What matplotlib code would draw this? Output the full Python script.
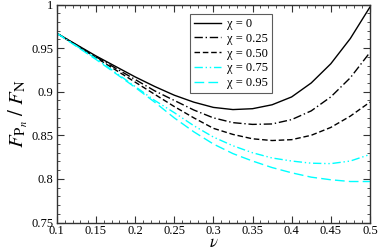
import numpy as np
import matplotlib
matplotlib.use("Agg")
import matplotlib.pyplot as plt
from matplotlib.ticker import MultipleLocator

plt.rcParams['font.family'] = ['Liberation Serif', 'DejaVu Serif']
plt.rcParams['mathtext.fontset'] = 'stix'

# Poisson ratio values
nu = [0.1, 0.125, 0.15, 0.175, 0.2, 0.225, 0.25, 0.275, 0.3,
      0.325, 0.35, 0.375, 0.4, 0.425, 0.45, 0.475, 0.5]

# F_Pn / F_N for each chi
chi_0 = [0.967, 0.954, 0.941, 0.929, 0.917, 0.906, 0.896, 0.888, 0.882,
         0.8795, 0.8805, 0.885, 0.894, 0.910, 0.932, 0.961, 0.997]
chi_025 = [0.967, 0.9535, 0.940, 0.927, 0.914, 0.901, 0.890, 0.879, 0.870,
           0.8645, 0.8625, 0.863, 0.868, 0.878, 0.894, 0.916, 0.945]
chi_050 = [0.967, 0.953, 0.939, 0.925, 0.911, 0.897, 0.883, 0.870, 0.858,
           0.851, 0.846, 0.844, 0.845, 0.850, 0.859, 0.872, 0.888]
chi_075 = [0.967, 0.9525, 0.938, 0.922, 0.906, 0.890, 0.876, 0.861, 0.848,
           0.838, 0.830, 0.824, 0.8205, 0.818, 0.8175, 0.8205, 0.828]
chi_095 = [0.967, 0.952, 0.937, 0.921, 0.905, 0.888, 0.870, 0.854, 0.840,
           0.829, 0.8205, 0.813, 0.807, 0.802, 0.799, 0.797, 0.797]

labels = ['\u03c7 = 0', '\u03c7 = 0.25', '\u03c7 = 0.50',
          '\u03c7 = 0.75', '\u03c7 = 0.95']

xticks = [0.1, 0.15, 0.2, 0.25, 0.3, 0.35, 0.4, 0.45, 0.5]
xticklabels = ['0.1', '0.15', '0.2', '0.25', '0.3', '0.35', '0.4', '0.45', '0.5']
yticks = [0.75, 0.8, 0.85, 0.9, 0.95, 1.0]
yticklabels = ['0.75', '0.8', '0.85', '0.9', '0.95', '1']

fig = plt.figure(figsize=(3.79, 2.5), dpi=100)
ax = fig.add_axes([0.150, 0.11, 0.826, 0.872])

ax.plot(nu, chi_0, color='black', lw=1.0, ls='-', label=labels[0])
ax.plot(nu, chi_025, color='black', lw=1.0, ls=(0, (6, 2, 1, 2)), label=labels[1])
ax.plot(nu, chi_050, color='black', lw=1.0, ls=(0, (4, 2)), label=labels[2])
ax.plot(nu, chi_075, color='cyan', lw=1.0, ls=(0, (6, 2, 1, 2, 1, 2)), label=labels[3])
ax.plot(nu, chi_095, color='cyan', lw=1.0, ls=(0, (7, 3)), label=labels[4])

ax.set_xlim(0.1, 0.5)
ax.set_ylim(0.75, 1.0)
ax.set_xticks(xticks)
ax.set_xticklabels(xticklabels)
ax.set_yticks(yticks)
ax.set_yticklabels(yticklabels)
ax.xaxis.set_minor_locator(MultipleLocator(0.01))
ax.yaxis.set_minor_locator(MultipleLocator(0.01))
ax.tick_params(which='both', direction='in', top=True, right=True,
               labelsize=9, pad=1.5, color='#333333')
ax.tick_params(axis='y', pad=2.5)
ax.tick_params(which='major', length=5)
ax.tick_params(which='minor', length=2.5)
for s in ax.spines.values():
    s.set_color('#333333')
    s.set_linewidth(1.0)

ax.set_xlabel(r'$\nu$', fontsize=12, labelpad=-1)
ax.set_ylabel(r'$F_{\mathrm{P}_n}\ /\ F_{\mathrm{N}}$', fontsize=15, labelpad=1)

leg = ax.legend(loc='upper left', bbox_to_anchor=(0.425, 0.955), fontsize=9,
                frameon=True, fancybox=False, handlelength=2.2,
                borderpad=0.3, labelspacing=0.22, handletextpad=0.5,
                borderaxespad=0)
leg.get_frame().set_edgecolor('#333333')
leg.get_frame().set_linewidth(0.8)

fig.savefig('out.png', dpi=100)
